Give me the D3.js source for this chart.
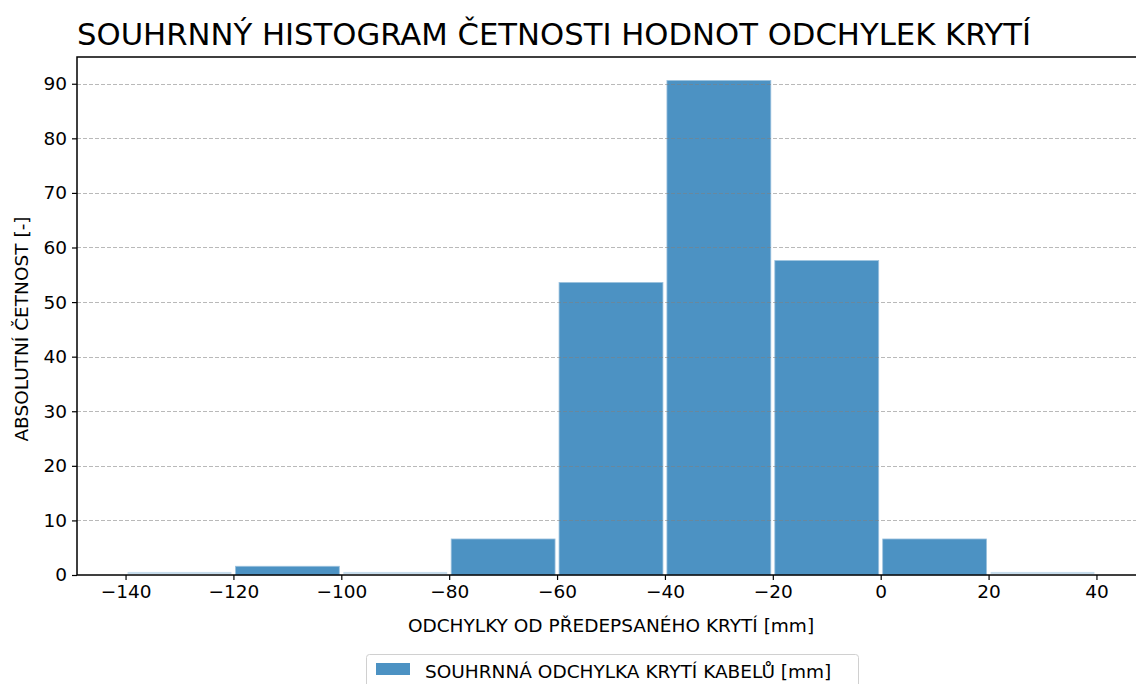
<!DOCTYPE html>
<html>
<head>
<meta charset="utf-8">
<script src="https://cdn.jsdelivr.net/npm/d3@7"></script>
<style>
  body { margin: 0; background: #fff; }
  text { font-family: "DejaVu Sans", sans-serif; fill: #000; }
</style>
</head>
<body>
<svg id="chart" width="1136" height="684"></svg>
<script>
// histogram bins (left edges, width 20 mm)
const binStarts = [-140, -120, -100, -80, -60, -40, -20, 0, 20];
const counts    = [0.75, 1.6, 0.75, 6.6, 53.6, 90.6, 57.6, 6.6, 0.75];
const xTicks = [-140, -120, -100, -80, -60, -40, -20, 0, 20, 40];
const yTicks = [0, 10, 20, 30, 40, 50, 60, 70, 80, 90];

const title = "SOUHRNNÝ HISTOGRAM ČETNOSTI HODNOT ODCHYLEK KRYTÍ";
const xLabel = "ODCHYLKY OD PŘEDEPSANÉHO KRYTÍ [mm]";
const yLabel = "ABSOLUTNÍ ČETNOST [-]";
const legendLabel = "SOUHRNNÁ ODCHYLKA KRYTÍ KABELŮ [mm]";

const m = { left: 77, top: 57, right: 1145, bottom: 575 };
const fs = "18.5px";

const svg = d3.select("#chart");

const x = d3.scaleLinear().domain([-149, 49]).range([m.left, m.right]);
const y = d3.scaleLinear().domain([0, 94.9]).range([m.bottom, m.top]);

// bars
svg.append("g")
  .selectAll("rect")
  .data(binStarts)
  .enter().append("rect")
  .attr("x", d => x(d) + 2)
  .attr("width", d => x(d + 20) - x(d) - 4)
  .attr("y", (d, i) => y(counts[i]) + (counts[i] < 1 ? 1 : 0))
  .attr("height", (d, i) => y(0) - y(counts[i]) - (counts[i] < 1 ? 2 : 0))
  .attr("fill", (d, i) => counts[i] < 1 ? "#c6dcec" : "#4c92c3")
  .attr("stroke", (d, i) => counts[i] < 1 ? "none" : "#9cc2de")
  .attr("stroke-width", 0.8)

// grid on top of bars
svg.append("g")
  .selectAll("line")
  .data(yTicks.filter(d => d > 0))
  .enter().append("line")
  .attr("x1", m.left)
  .attr("x2", m.right)
  .attr("y1", d => Math.round(y(d)) + 0.5)
  .attr("y2", d => Math.round(y(d)) + 0.5)
  .attr("stroke", "#808080")
  .attr("stroke-opacity", 0.55)
  .attr("stroke-width", 1)
  .attr("stroke-dasharray", "4,2")

// axes
const xAxis = d3.axisBottom(x)
  .tickValues(xTicks)
  .tickSize(5)
  .tickPadding(5)
  .tickFormat(d => d < 0 ? "\u2212" + Math.abs(d) : d);

const yAxis = d3.axisLeft(y)
  .tickValues(yTicks)
  .tickSize(5)
  .tickPadding(5);

const gx = svg.append("g")
  .attr("transform", `translate(0,${m.bottom})`)
  .call(xAxis);

const gy = svg.append("g")
  .attr("transform", `translate(${m.left},0)`)
  .call(yAxis);

[gx, gy].forEach(g => {
  g.select(".domain").remove();
  g.selectAll("line").attr("stroke", "#000").attr("stroke-width", 1.2);
  g.selectAll("text").style("font-size", fs).attr("fill", "#000");
});

// frame
svg.append("rect")
  .attr("x", m.left)
  .attr("y", m.top)
  .attr("width", m.right - m.left)
  .attr("height", m.bottom - m.top)
  .attr("fill", "none")
  .attr("stroke", "#000")
  .attr("stroke-width", 1.5)

// title & labels
svg.append("text")
  .attr("x", m.left)
  .attr("y", 45)
  .style("font-size", "30.7px")
  .text(title)

svg.append("text")
  .attr("x", 611)
  .attr("y", 632)
  .attr("text-anchor", "middle")
  .style("font-size", fs)
  .text(xLabel)

svg.append("text")
  .attr("transform", `translate(28,${329}) rotate(-90)`)
  .attr("text-anchor", "middle")
  .style("font-size", fs)
  .text(yLabel)

// legend
const lg = svg.append("g").attr("transform", "translate(366,654)");
lg.append("rect")
  .attr("x", 0.5).attr("y", 0.5)
  .attr("width", 492).attr("height", 44)
  .attr("rx", 3)
  .attr("fill", "#fff")
  .attr("stroke", "#d0d0d0")
lg.append("rect")
  .attr("x", 10).attr("y", 9)
  .attr("width", 34).attr("height", 12)
  .attr("fill", "#4c92c3")
lg.append("text")
  .attr("x", 59)
  .attr("y", 24)
  .style("font-size", fs)
  .text(legendLabel)
</script>
</body>
</html>
